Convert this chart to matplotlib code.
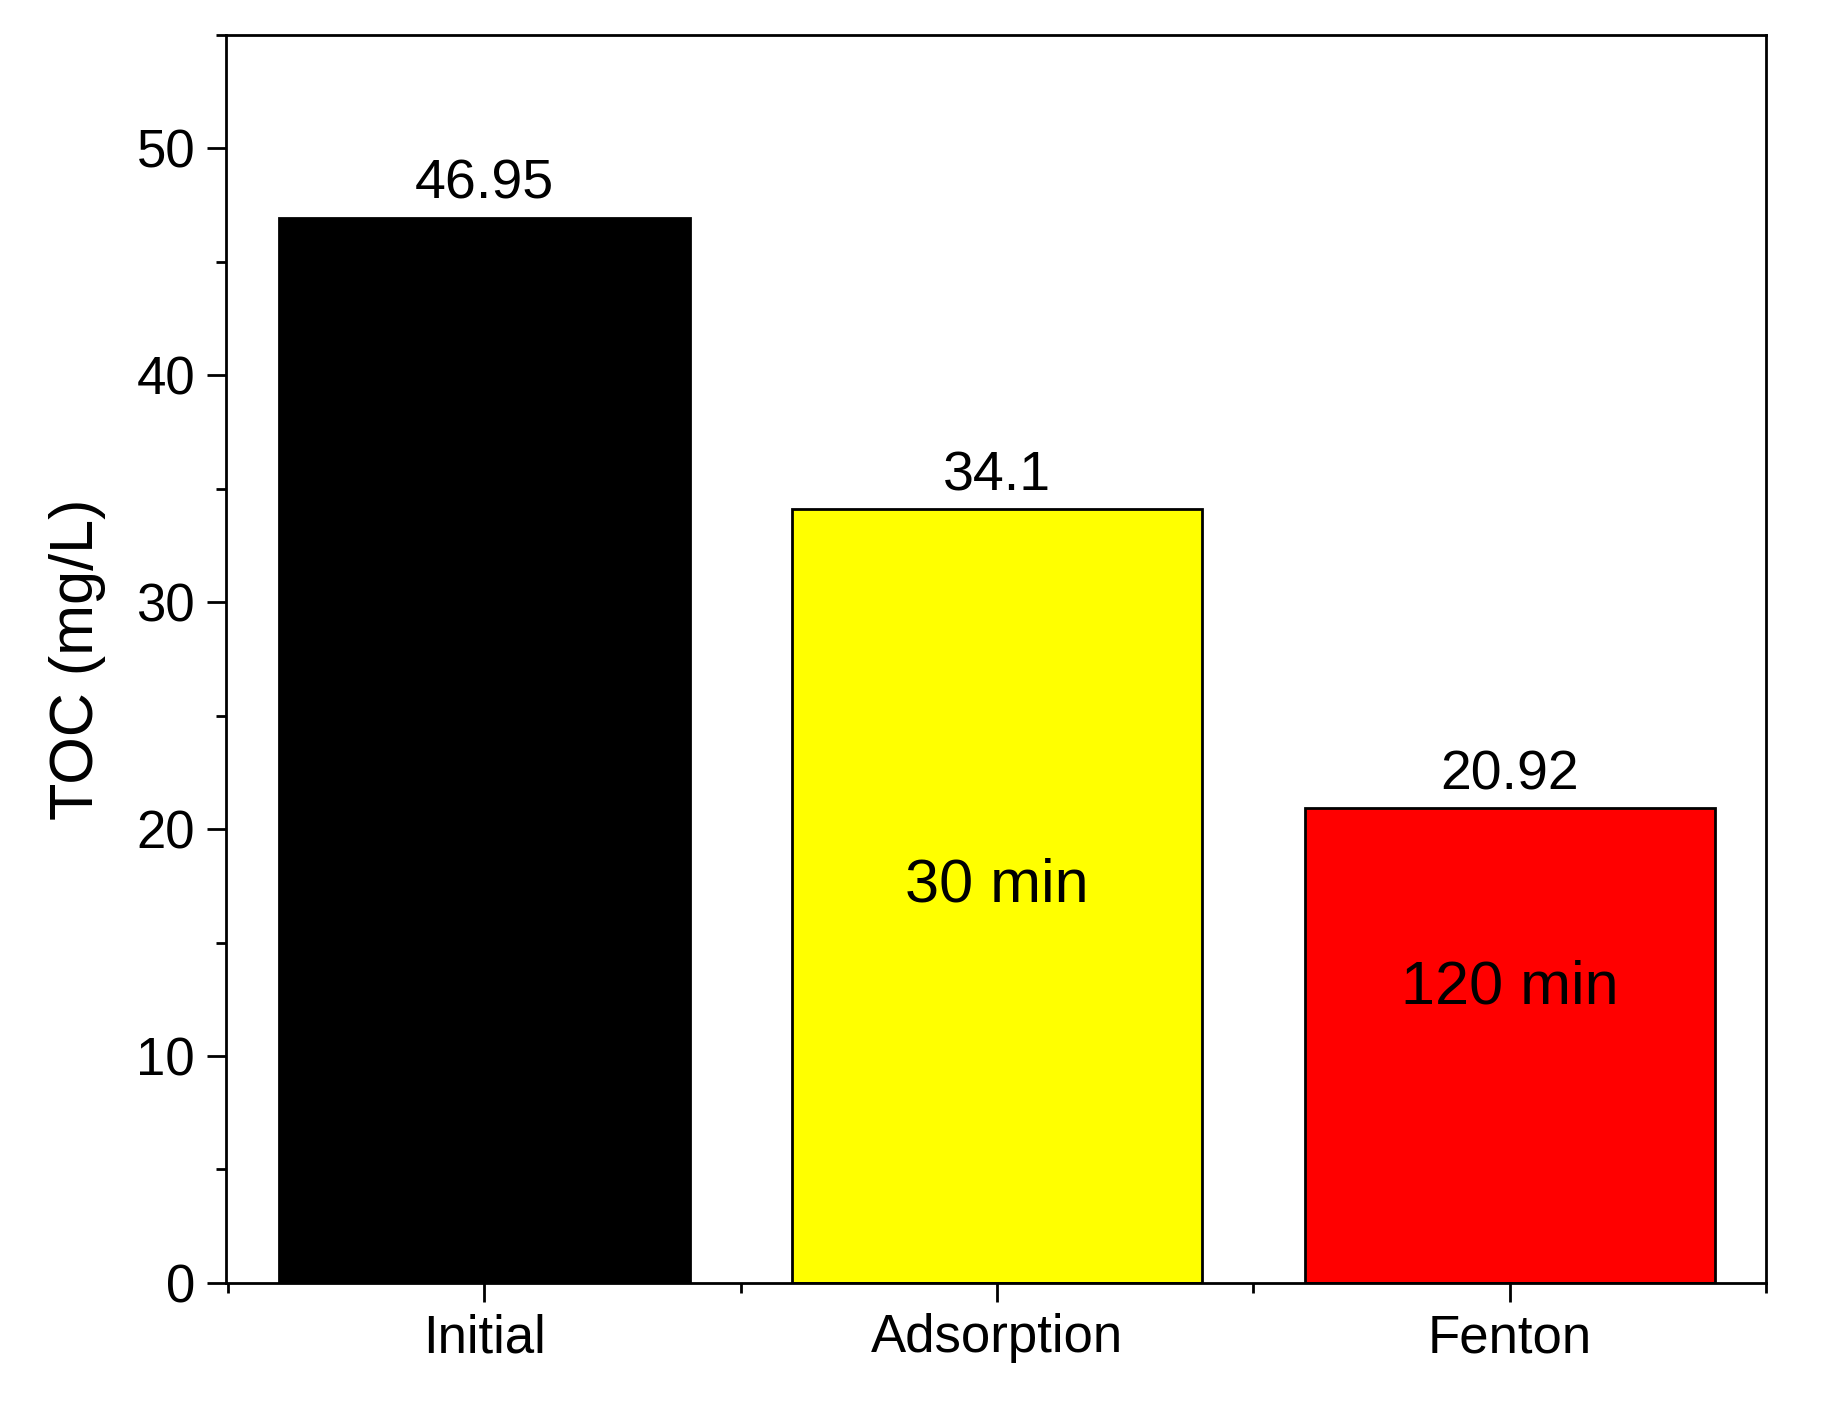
import matplotlib.pyplot as plt
from matplotlib.ticker import MultipleLocator

plt.rcParams['font.family'] = ['Liberation Sans', 'DejaVu Sans']

categories = ['Initial', 'Adsorption', 'Fenton']
toc = [46.95, 34.1, 20.92]
value_labels = ['46.95', '34.1', '20.92']
colors = ['black', 'yellow', 'red']
inner_text = [None, '30 min', '120 min']
inner_y = [None, 17.5, 13.0]

fig = plt.figure(figsize=(18.34, 14.02), dpi=100)
ax = fig.add_axes([0.123, 0.085, 0.84, 0.89])

x = range(len(categories))
ax.bar(x, toc, width=0.8, color=colors, edgecolor='black', linewidth=2)

for i, v in enumerate(toc):
    ax.text(i, v + 0.3, value_labels[i], ha='center', va='bottom', fontsize=40)
    if inner_text[i]:
        ax.text(i, inner_y[i], inner_text[i], ha='center', va='center', fontsize=44)

ax.set_xlim(-0.505, 2.5)
ax.set_ylim(0, 55)
ax.set_xticks(list(x))
ax.set_xticklabels(categories)
ax.xaxis.set_minor_locator(MultipleLocator(0.5))
ax.yaxis.set_major_locator(MultipleLocator(10))
ax.yaxis.set_minor_locator(MultipleLocator(5))
ax.tick_params(axis='both', which='major', direction='out', length=14, width=2, labelsize=38, pad=8)
ax.tick_params(axis='both', which='minor', direction='out', length=7, width=2)
ax.tick_params(top=False, right=False)
for s in ax.spines.values():
    s.set_linewidth(2)
ax.set_ylabel('TOC (mg/L)', fontsize=44, labelpad=22)

fig.savefig('out.png', dpi=100)
